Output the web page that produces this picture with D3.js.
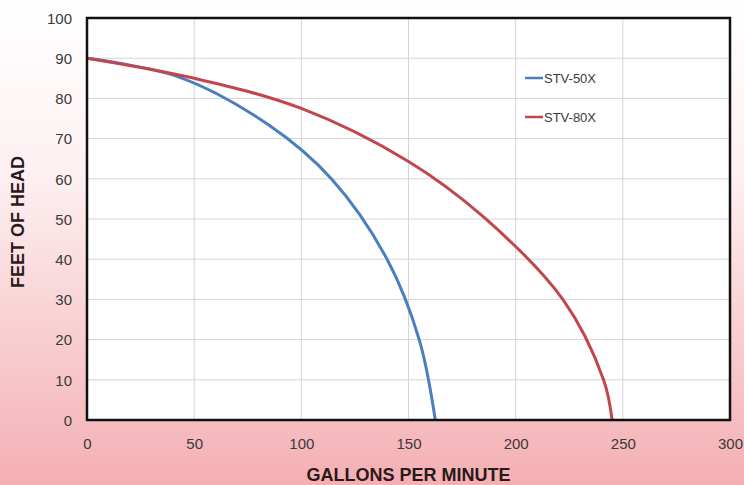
<!DOCTYPE html>
<html>
<head>
<meta charset="utf-8">
<script src="https://cdn.jsdelivr.net/npm/d3@7"></script>
<style>
  body { margin: 0; }
  svg { display: block; font-family: Arial, "Liberation Sans", sans-serif; }
  .grid line { stroke: #d4d4d4; stroke-width: 1; }
  .tick text { fill: #3a3a3a; font-size: 15px; }
</style>
</head>
<body>
<script>
// values
var xTicks = [0, 50, 100, 150, 200, 250, 300];
var yTicks = [0, 10, 20, 30, 40, 50, 60, 70, 80, 90, 100];

var seriesNames = ["STV-50X", "STV-80X"];
var seriesColors = ["#4a7ebf", "#c0474d"];

var stv50Gpm  = [0, 43, 85, 114, 140, 155, 162.5];
var stv50Head = [90, 85.3, 73.3, 60, 40, 20, 0];

var stv80Gpm  = [0, 50, 100, 150, 185, 222, 241, 245];
var stv80Head = [90, 85, 77.5, 64.3, 50.5, 30, 10, 0];

window.onload = drawChart();

function drawChart(){
    var width = 744,
        height = 485;

    var margin = {left: 87, right: 14, top: 18, bottom: 65};

    var svg = d3.select("body")
        .append("svg")
        .attr("width", width)
        .attr("height", height);

    //pink background gradient
    var grad = svg.append("defs").append("linearGradient")
        .attr("id", "bg")
        .attr("x1", 0).attr("y1", 0)
        .attr("x2", 0).attr("y2", 1);
    grad.append("stop").attr("offset", "0%").attr("stop-color", "#ffffff");
    grad.append("stop").attr("offset", "35%").attr("stop-color", "#fdf1f2");
    grad.append("stop").attr("offset", "100%").attr("stop-color", "#f4afb3");

    svg.append("rect")
        .attr("width", width)
        .attr("height", height)
        .attr("fill", "url(#bg)");

    var x = d3.scaleLinear()
        .domain([0, 300])
        .range([margin.left, width - margin.right]);

    var y = d3.scaleLinear()
        .domain([0, 100])
        .range([height - margin.bottom, margin.top]);

    //plot area
    svg.append("rect")
        .attr("x", x(0))
        .attr("y", y(100))
        .attr("width", x(300) - x(0))
        .attr("height", y(0) - y(100))
        .attr("fill", "#ffffff");

    //grid lines
    var grid = svg.append("g").attr("class", "grid");
    grid.selectAll(".hline")
        .data(yTicks)
        .enter()
        .append("line")
        .attr("x1", x(0)).attr("x2", x(300))
        .attr("y1", function(d){ return y(d); })
        .attr("y2", function(d){ return y(d); });
    grid.selectAll(".vline")
        .data(xTicks)
        .enter()
        .append("line")
        .attr("y1", y(0)).attr("y2", y(100))
        .attr("x1", function(d){ return x(d); })
        .attr("x2", function(d){ return x(d); });

    //axes (labels only)
    var xAxis = svg.append("g")
        .attr("transform", "translate(0," + (y(0) + 14) + ")")
        .call(d3.axisBottom(x).tickValues(xTicks).tickSize(0).tickPadding(4));
    xAxis.select(".domain").remove();

    var yAxis = svg.append("g")
        .attr("transform", "translate(" + (x(0) - 13) + ",0)")
        .call(d3.axisLeft(y).tickValues(yTicks).tickSize(0).tickPadding(2));
    yAxis.select(".domain").remove();
    yAxis.selectAll("text").attr("dy", "0.35em");

    //curves
    var line = d3.line()
        .x(function(d){ return x(d[0]); })
        .y(function(d){ return y(d[1]); })
        .curve(d3.curveCatmullRom.alpha(0.5));

    var series = [
        d3.zip(stv50Gpm, stv50Head),
        d3.zip(stv80Gpm, stv80Head)
    ];

    svg.selectAll(".curve")
        .data(series)
        .enter()
        .append("path")
        .attr("class", "curve")
        .attr("fill", "none")
        .attr("stroke", function(d, i){ return seriesColors[i]; })
        .attr("stroke-width", 3)
        .attr("d", line);

    //plot border
    svg.append("rect")
        .attr("x", x(0))
        .attr("y", y(100))
        .attr("width", x(300) - x(0))
        .attr("height", y(0) - y(100))
        .attr("fill", "none")
        .attr("stroke", "#111111")
        .attr("stroke-width", 2.5);

    //legend
    var legend = svg.selectAll(".legend")
        .data(seriesNames)
        .enter()
        .append("g")
        .attr("class", "legend")
        .attr("transform", function(d, i){ return "translate(525," + (78 + i * 39) + ")"; });
    legend.append("line")
        .attr("x1", 0).attr("x2", 18)
        .attr("stroke", function(d, i){ return seriesColors[i]; })
        .attr("stroke-width", 2.5);
    legend.append("text")
        .attr("x", 19)
        .attr("dy", "0.35em")
        .attr("font-size", 13)
        .attr("fill", "#3a3a3a")
        .text(function(d){ return d; });

    //axis titles
    svg.append("text")
        .attr("x", (x(0) + x(300)) / 2)
        .attr("y", 481)
        .attr("text-anchor", "middle")
        .attr("font-size", 18)
        .attr("font-weight", "bold")
        .attr("fill", "#2a1a1a")
        .text("GALLONS PER MINUTE");

    svg.append("text")
        .attr("transform", "translate(24," + ((y(0) + y(100)) / 2 + 3) + ") rotate(-90)")
        .attr("text-anchor", "middle")
        .attr("font-size", 18)
        .attr("font-weight", "bold")
        .attr("fill", "#2a1a1a")
        .text("FEET OF HEAD");
}
</script>
</body>
</html>
